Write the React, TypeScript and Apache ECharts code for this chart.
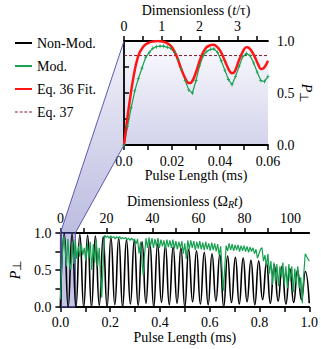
import React, { useEffect, useRef } from "react";
import * as echarts from "echarts";

// ---------- data ----------
// Non-modulated Rabi oscillation (bottom panel): successive extrema, 32 oscillations in 1 ms
const nonModHalfPeriod = 1 / 64; // ms between a trough and the next peak
const nonModPeaks = [
  0.99, 0.99, 0.98, 0.97, 0.96, 0.95, 0.94, 0.93, 0.91, 0.9, 0.88, 0.87, 0.85, 0.83, 0.81, 0.8,
  0.78, 0.76, 0.74, 0.72, 0.71, 0.69, 0.67, 0.66, 0.63, 0.62, 0.6, 0.57, 0.55, 0.52, 0.5, 0.48,
];
const nonModTroughs = [
  0, 0, 0, 0, 0, 0.02, 0, 0.03, 0, 0.04, 0.02, 0.05, 0, 0.06, 0.03, 0.05, 0, 0.07, 0.04, 0.03,
  0.08, 0, 0.06, 0.04, 0.07, 0.03, 0.1, 0.05, 0.08, 0.04, 0.06, 0.1, 0.05,
];

// Modulated signal (bottom panel): [pulse length ms, P]
const modPulse: number[][] = [
  [0, 0.1], [0.006, 0.6], [0.012, 0.95], [0.018, 0.85], [0.024, 0.55], [0.03, 0.92], [0.036, 0.6], [0.042, 0.5], [0.048, 0.88], [0.054, 0.58], [0.06, 0.9],
  [0.066, 0.65], [0.072, 0.82], [0.078, 0.68], [0.084, 0.85], [0.09, 0.7], [0.096, 0.8], [0.102, 0.62], [0.108, 0.86], [0.114, 0.66], [0.12, 0.88],
  [0.126, 0.5], [0.132, 0.85], [0.138, 0.6], [0.144, 0.9], [0.15, 0.55], [0.156, 0.8], [0.162, 0.35], [0.166, 0.13], [0.172, 0.6], [0.178, 0.97],
  [0.184, 0.94], [0.19, 0.96], [0.196, 0.93], [0.202, 0.96], [0.208, 0.94], [0.214, 0.95], [0.22, 0.92], [0.226, 0.95], [0.232, 0.93], [0.238, 0.95],
  [0.244, 0.92], [0.25, 0.94], [0.256, 0.92], [0.262, 0.94], [0.268, 0.91], [0.274, 0.93], [0.28, 0.9], [0.286, 0.93], [0.292, 0.9], [0.298, 0.92], [0.304, 0.85],
  [0.31, 0.92], [0.316, 0.72], [0.322, 0.88], [0.328, 0.6], [0.333, 0.43], [0.338, 0.7], [0.344, 0.93],
  [0.35, 0.8], [0.356, 0.94], [0.362, 0.82], [0.368, 0.93], [0.374, 0.8], [0.38, 0.92], [0.386, 0.82], [0.392, 0.93], [0.398, 0.8], [0.404, 0.91],
  [0.41, 0.82], [0.416, 0.9], [0.422, 0.79], [0.428, 0.91], [0.434, 0.81], [0.44, 0.9], [0.446, 0.8], [0.452, 0.91], [0.458, 0.79], [0.464, 0.89],
  [0.47, 0.78], [0.476, 0.88], [0.482, 0.8], [0.488, 0.89], [0.494, 0.72], [0.5, 0.86],
  [0.506, 0.65], [0.512, 0.9], [0.518, 0.78], [0.524, 0.9], [0.53, 0.8], [0.536, 0.89], [0.542, 0.77], [0.548, 0.88], [0.554, 0.79], [0.56, 0.89],
  [0.566, 0.78], [0.572, 0.87], [0.578, 0.77], [0.584, 0.88], [0.59, 0.78], [0.596, 0.86], [0.602, 0.76], [0.608, 0.87], [0.614, 0.77], [0.62, 0.86],
  [0.626, 0.75], [0.632, 0.85], [0.638, 0.7], [0.644, 0.82], [0.65, 0.5], [0.655, 0.22], [0.66, 0.5], [0.666, 0.83],
  [0.672, 0.76], [0.678, 0.86], [0.684, 0.77], [0.69, 0.85], [0.696, 0.76], [0.702, 0.84], [0.708, 0.77], [0.714, 0.84], [0.72, 0.75], [0.726, 0.83],
  [0.732, 0.76], [0.738, 0.83], [0.744, 0.75], [0.75, 0.82], [0.756, 0.74], [0.762, 0.81], [0.768, 0.75], [0.774, 0.8], [0.78, 0.72], [0.786, 0.78],
  [0.792, 0.66], [0.798, 0.72], [0.804, 0.78], [0.81, 0.8], [0.816, 0.62], [0.822, 0.7], [0.828, 0.55], [0.834, 0.72], [0.84, 0.45], [0.846, 0.62],
  [0.852, 0.3], [0.858, 0.6], [0.864, 0.35], [0.87, 0.58], [0.876, 0.28], [0.882, 0.55], [0.888, 0.4], [0.894, 0.6], [0.9, 0.3], [0.906, 0.55],
  [0.912, 0.25], [0.918, 0.58], [0.924, 0.35], [0.93, 0.55], [0.936, 0.2], [0.942, 0.52], [0.948, 0.3], [0.954, 0.55], [0.96, 0.25], [0.966, 0.4],
  [0.972, 0.05], [0.978, 0.45], [0.984, 0.72], [0.99, 0.68], [1.0, 0.62],
];

// Modulated signal, inset (first 0.06 ms, with error-bar markers)
const modInset: number[][] = [
  [0, 0], [0.0015, 0.18], [0.003, 0.36], [0.0045, 0.52], [0.006, 0.64], [0.0075, 0.74], [0.009, 0.84], [0.0105, 0.89], [0.012, 0.93],
  [0.0135, 0.945], [0.015, 0.95], [0.0165, 0.95], [0.018, 0.94], [0.0195, 0.93], [0.021, 0.89], [0.0225, 0.82], [0.024, 0.73], [0.0255, 0.62],
  [0.027, 0.53], [0.0285, 0.5], [0.03, 0.62], [0.0315, 0.76], [0.033, 0.86], [0.0345, 0.9], [0.036, 0.92], [0.0375, 0.925], [0.039, 0.89],
  [0.0405, 0.81], [0.042, 0.72], [0.0435, 0.63], [0.045, 0.58], [0.0465, 0.66], [0.048, 0.76], [0.0495, 0.85], [0.051, 0.88], [0.0525, 0.86],
  [0.054, 0.79], [0.0555, 0.7], [0.057, 0.62], [0.0585, 0.61], [0.06, 0.66],
];

// Eq. 36 fit (inset)
const eq36Fit: number[][] = [
  [0, 0], [0.002, 0.36], [0.004, 0.66], [0.006, 0.86], [0.008, 0.945], [0.01, 0.98], [0.012, 0.995], [0.014, 1.0], [0.016, 0.995],
  [0.018, 0.98], [0.02, 0.94], [0.022, 0.85], [0.024, 0.72], [0.026, 0.62], [0.027, 0.595], [0.028, 0.6], [0.03, 0.7], [0.032, 0.84],
  [0.034, 0.93], [0.036, 0.96], [0.037, 0.965], [0.038, 0.96], [0.04, 0.91], [0.042, 0.81], [0.044, 0.71], [0.045, 0.69], [0.046, 0.7],
  [0.048, 0.82], [0.05, 0.92], [0.051, 0.94], [0.052, 0.935], [0.054, 0.87], [0.056, 0.77], [0.057, 0.73], [0.058, 0.735], [0.06, 0.81],
];

// Eq. 37 level (inset)
const eq37Level = 0.86;

// Axis ranges
const pulseMax = 1.0;
const insetPulseMax = 0.06;
const omegaTMax = 108.2;
const tTauMax = 3.81;

const legendNames = ["Non-Mod.", "Mod.", "Eq. 36 Fit.", "Eq. 37"];

const FONT = '"Liberation Serif", "Times New Roman", serif';
const GREEN = "#17a050";
const RED = "#ff1414";
const DASHED = "path://M0,0h3v1h-3z M5,0h3v1h-3z M10,0h3v1h-3z M15,0h3v1h-3z";

export default function App() {
  const ref = useRef<HTMLDivElement>(null);
  useEffect(() => {
    if (!ref.current) return;
    const chart = echarts.init(ref.current, undefined, { renderer: "svg" });

    const nonMod: number[][] = [];
    for (let i = 0; i < nonModTroughs.length; i++) {
      nonMod.push([2 * i * nonModHalfPeriod, nonModTroughs[i]]);
      if (i < nonModPeaks.length) nonMod.push([(2 * i + 1) * nonModHalfPeriod, nonModPeaks[i]]);
    }

    const txt = { fontFamily: FONT, fontSize: 14, color: "#000" };
    const rich = {
      n: { fontFamily: FONT, fontSize: 14, color: "#000" },
      i: { fontFamily: FONT, fontSize: 14, fontStyle: "italic", color: "#000" },
      s: { fontFamily: FONT, fontSize: 10, fontStyle: "italic", color: "#000", verticalAlign: "bottom", padding: [6, 0, 0, 0] },
      u: { fontFamily: FONT, fontSize: 12, color: "#000", padding: [4, 0, 0, 0] },
    };
    const axisLine = { show: true, lineStyle: { color: "#000", width: 1.8 } };
    const axisTick = { show: true, length: 5, lineStyle: { color: "#000", width: 1.5 } };

    const option: any = {
      animation: false,
      textStyle: txt,
      grid: [
        { left: 46, top: 233, width: 264, height: 74 },
        { left: 124, top: 41, width: 144, height: 104 },
      ],
      legend: {
        orient: "vertical",
        left: 10,
        top: 31,
        itemWidth: 17,
        itemHeight: 2,
        itemGap: 9,
        textStyle: { ...txt, lineHeight: 14 },
        data: [
          { name: legendNames[0], icon: "rect" },
          { name: legendNames[1], icon: "rect" },
          { name: legendNames[2], icon: "rect" },
          { name: legendNames[3], icon: DASHED },
        ],
      },
      xAxis: [
        {
          gridIndex: 0, type: "value", min: 0, max: pulseMax, interval: 0.1, position: "bottom",
          axisLine, axisTick, splitLine: { show: false },
          axisLabel: { ...txt, margin: 8, formatter: (v: number) => (Math.round(v * 10) % 2 === 0 ? v.toFixed(1) : "") },
          name: "Pulse Length (ms)", nameLocation: "middle", nameGap: 23, nameTextStyle: txt,
        },
        {
          gridIndex: 1, type: "value", min: 0, max: insetPulseMax, interval: 0.01, position: "bottom",
          axisLine, axisTick, splitLine: { show: false },
          axisLabel: { ...txt, margin: 9, formatter: (v: number) => (Math.round(v * 100) % 2 === 0 ? (v === 0 ? "0.0" : v.toFixed(2)) : "") },
          name: "Pulse Length (ms)", nameLocation: "middle", nameGap: 23, nameTextStyle: txt,
        },
        {
          gridIndex: 0, type: "value", min: 0, max: omegaTMax, interval: 10, position: "top",
          axisLine, axisTick, splitLine: { show: false },
          axisLabel: { ...txt, margin: 8, showMaxLabel: false, formatter: (v: number) => (Math.round(v) % 20 === 0 && Math.abs(v - Math.round(v)) < 1e-6 ? String(Math.round(v)) : "") },
          name: "{n|Dimensionless (Ω}{s|R}{i|t}{n|)}", nameLocation: "middle", nameGap: 24, nameTextStyle: { ...txt, rich },
        },
        {
          gridIndex: 1, type: "value", min: 0, max: tTauMax, interval: 0.5, position: "top",
          axisLine, axisTick, splitLine: { show: false },
          axisLabel: { ...txt, margin: 8, showMaxLabel: false, formatter: (v: number) => (Math.abs(v - Math.round(v)) < 1e-6 ? String(Math.round(v)) : "") },
          name: "{n|Dimensionless (}{i|t}{n|/τ)}", nameLocation: "middle", nameGap: 24, nameTextStyle: { ...txt, rich },
        },
      ],
      yAxis: [
        {
          gridIndex: 0, type: "value", min: 0, max: 1, interval: 0.25, position: "left",
          axisLine, axisTick, splitLine: { show: false },
          axisLabel: { ...txt, margin: 9, formatter: (v: number) => (Math.round(v * 4) % 2 === 0 ? v.toFixed(1) : "") },
          name: "{i|P}{u|⊥}", nameLocation: "middle", nameRotate: 90, nameGap: 27, nameTextStyle: { ...txt, rich },
        },
        {
          gridIndex: 1, type: "value", min: 0, max: 1, interval: 0.25, position: "right",
          axisLine, axisTick, splitLine: { show: false },
          axisLabel: { ...txt, margin: 9, formatter: (v: number) => (Math.round(v * 4) % 2 === 0 ? v.toFixed(1) : "") },
          name: "{i|P}{u|⊥}", nameLocation: "middle", nameRotate: -90, nameGap: 30, nameTextStyle: { ...txt, rich },
        },
      ],
      series: [
        {
          name: "Non-Mod.", type: "line", xAxisIndex: 0, yAxisIndex: 0, data: nonMod, smooth: 0.5,
          symbol: "none", lineStyle: { color: "#000", width: 1.6 }, itemStyle: { color: "#000" },
          markArea: {
            silent: true,
            itemStyle: { color: "rgba(140,140,210,0.5)", borderColor: "#4848a0", borderWidth: 1 },
            data: [[{ xAxis: 0 }, { xAxis: insetPulseMax }]],
          },
        },
        {
          name: "Mod.", type: "line", xAxisIndex: 0, yAxisIndex: 0, data: modPulse,
          symbol: "none", lineStyle: { color: GREEN, width: 1.2 }, itemStyle: { color: GREEN },
        },
        {
          name: "Eq. 37", type: "line", xAxisIndex: 1, yAxisIndex: 1,
          data: [[0, eq37Level], [insetPulseMax, eq37Level]],
          symbol: "none", lineStyle: { color: "#7a1f2b", width: 1, type: [3, 2] }, itemStyle: { color: "#7a1f2b" },
        },
        {
          name: "Mod.", type: "line", xAxisIndex: 1, yAxisIndex: 1, data: modInset,
          symbol: "path://M1.5,0h1v5h-1z M0,2h4v1h-4z", symbolSize: [3, 4],
          showSymbol: true,
          lineStyle: { color: GREEN, width: 1.2 }, itemStyle: { color: GREEN },
        },
        {
          name: "Eq. 36 Fit.", type: "line", xAxisIndex: 1, yAxisIndex: 1, data: eq36Fit, smooth: 0.4,
          symbol: "none", lineStyle: { color: RED, width: 2.5 }, itemStyle: { color: RED },
        },
      ],
    };
    chart.setOption(option);

    const conv = (g: number, v: number[]) =>
      chart.convertToPixel({ xAxisIndex: g, yAxisIndex: g } as any, v) as number[];
    const btl = conv(0, [0, 1]);
    const btr = conv(0, [insetPulseMax, 1]);
    const itl = conv(1, [0, 1]);
    const ibl = conv(1, [0, 0]);
    const itr = conv(1, [insetPulseMax, 1]);

    chart.setOption({
      graphic: [
        {
          type: "rect", z: -1, silent: true,
          shape: { x: itl[0], y: itl[1], width: itr[0] - itl[0], height: ibl[1] - itl[1] },
          style: {
            fill: new echarts.graphic.LinearGradient(0, 0, 0, 1, [
              { offset: 0, color: "#fbfbfe" },
              { offset: 1, color: "#d3d3ec" },
            ]),
          },
        },
        {
          type: "polygon", z: -1, silent: true,
          shape: { points: [btl, itl, ibl, btr] },
          style: {
            fill: new echarts.graphic.LinearGradient(0, 0, 0, 1, [
              { offset: 0, color: "#f2f2fa" },
              { offset: 1, color: "#bcbce0" },
            ]),
          },
        },
        {
          type: "line", z: 1, silent: true,
          shape: { x1: btl[0], y1: btl[1], x2: itl[0], y2: itl[1] },
          style: { stroke: "#5a5ab4", lineWidth: 1 },
        },
        {
          type: "line", z: 1, silent: true,
          shape: { x1: btr[0], y1: btr[1], x2: ibl[0], y2: ibl[1] },
          style: { stroke: "#5a5ab4", lineWidth: 1 },
        },
      ],
    });

    return () => chart.dispose();
  }, []);

  return (
    <div
      ref={ref}
      style={{ position: "absolute", left: 0, top: 0, width: 321, height: 349 }}
    />
  );
}
